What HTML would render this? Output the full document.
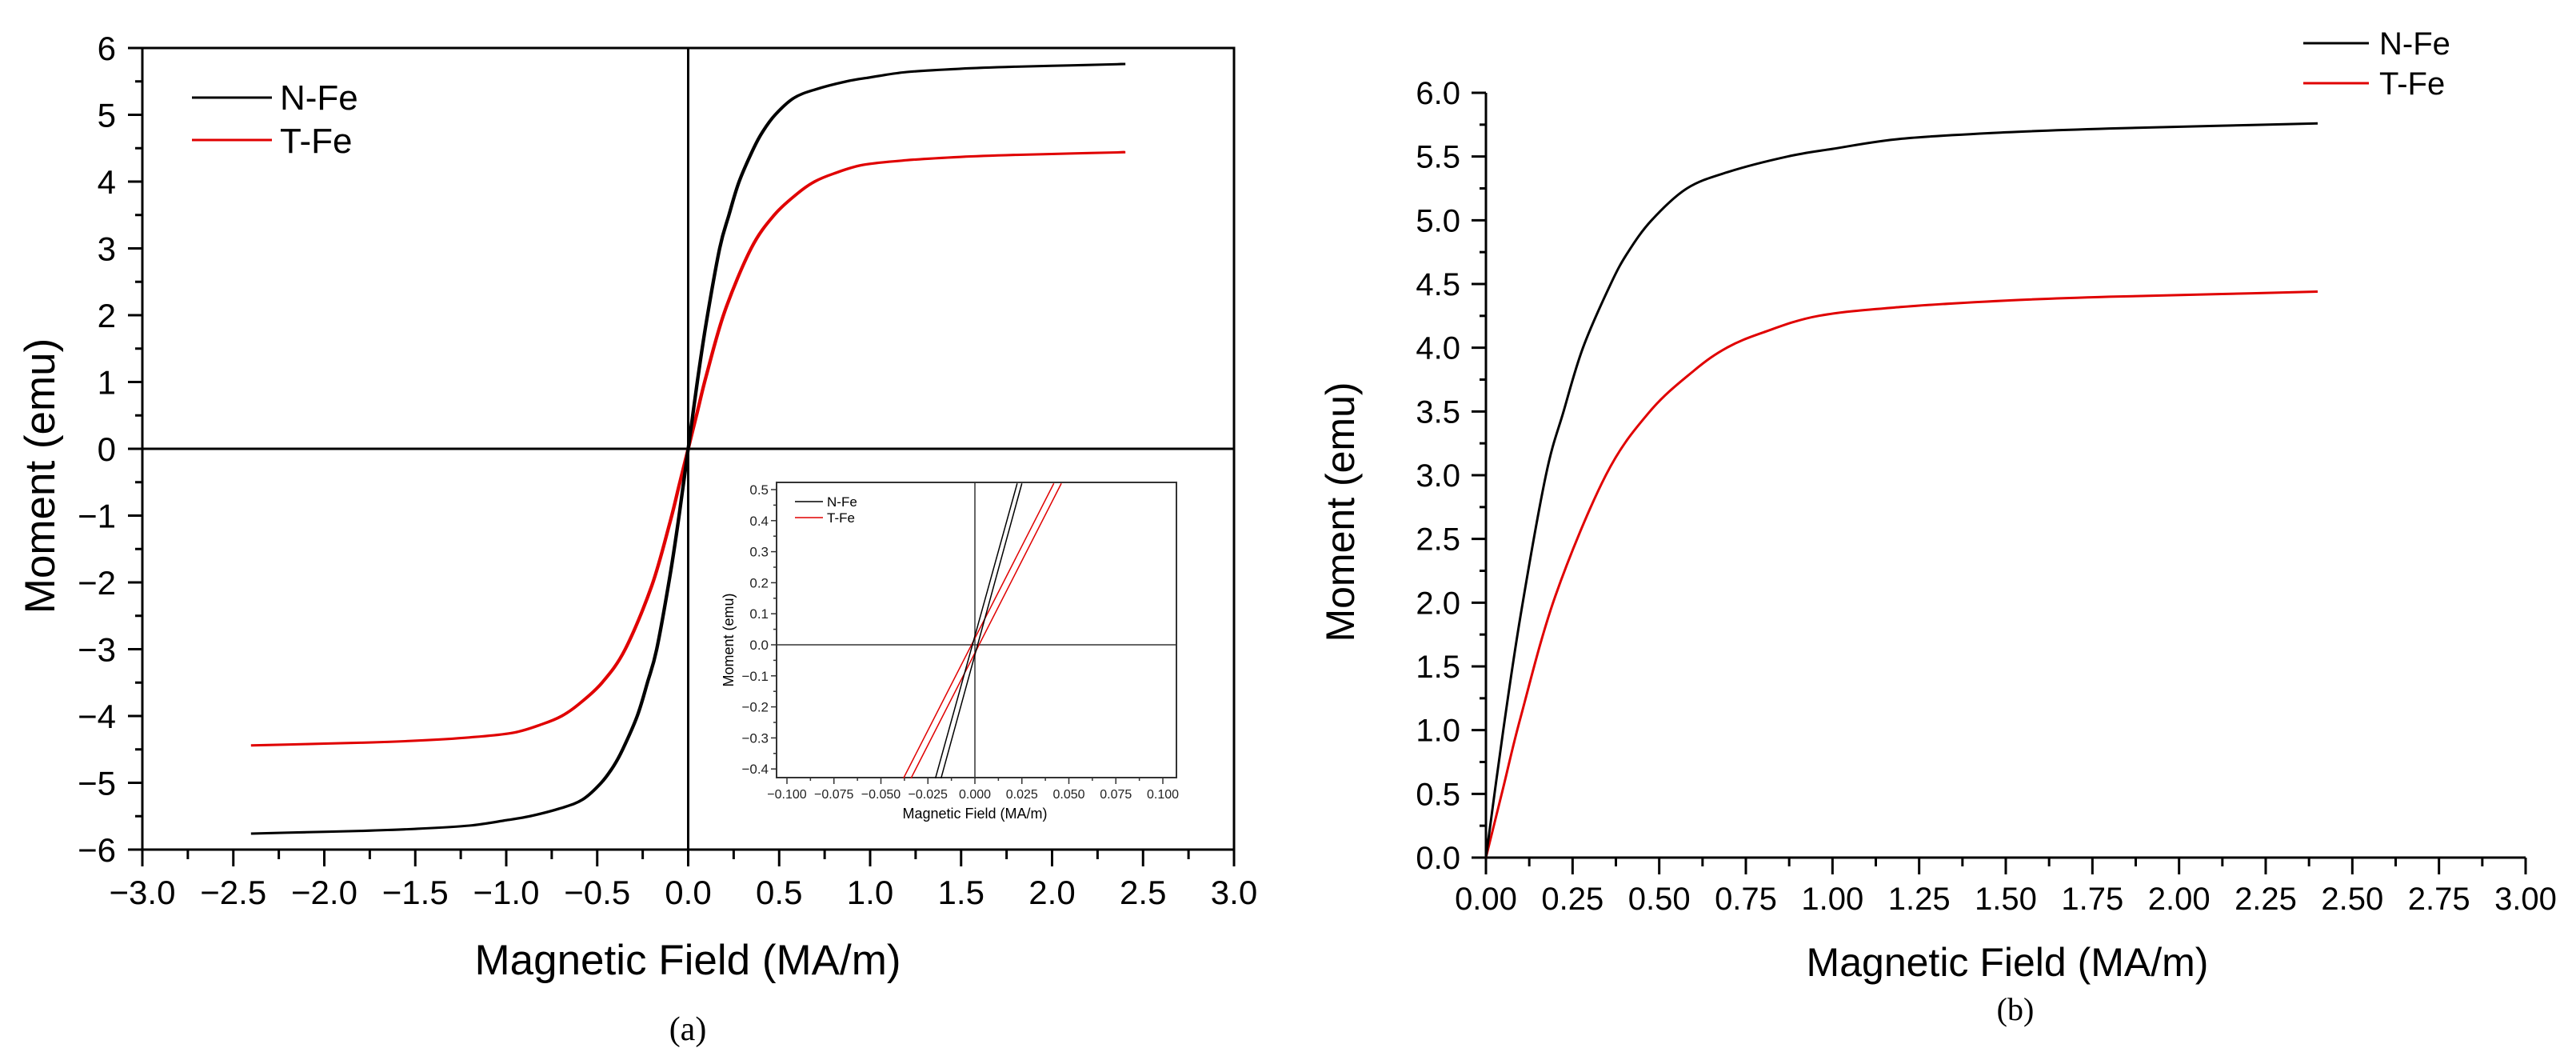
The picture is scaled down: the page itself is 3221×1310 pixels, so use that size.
<!DOCTYPE html>
<html><head><meta charset="utf-8"><style>
html,body{margin:0;padding:0;background:#fff;}
svg{display:block;font-family:"Liberation Sans",Arial,sans-serif;}
</style></head><body>
<svg id="fig" width="3221" height="1310" viewBox="0 0 3221 1310" xmlns="http://www.w3.org/2000/svg">
<g id="pa"></g>
<g id="ins"></g>
<g id="pb"></g>
</svg>
<script>
// ---- data ----
const nFeX = [0,0.05,0.1,0.173,0.224,0.28,0.36,0.41,0.478,0.58,0.7,0.87,1.0,1.2,1.5,1.8,2.1,2.4];
const nFeY = [0,1.0,1.9,3.0,3.5,4.0,4.5,4.75,5.0,5.25,5.38,5.5,5.56,5.64,5.69,5.72,5.74,5.76];
const tFeX = [0,0.05,0.1,0.2,0.346,0.473,0.6,0.695,0.8,0.96,1.2,1.5,1.8,2.1,2.4];
const tFeY = [0,0.55,1.1,2.05,3.0,3.5,3.82,4.0,4.12,4.25,4.32,4.37,4.40,4.42,4.44];
const coercN = 0.003;
const coercT = 0.003;
const insetNX1 = [-0.021,0.0225];
const insetNX2 = [-0.018,0.025];
const insetTX1 = [-0.038,0.042];
const insetTX2 = [-0.034,0.046];
const insetY = [-0.43,0.52];
const aXTicks = [-3.0,-2.5,-2.0,-1.5,-1.0,-0.5,0.0,0.5,1.0,1.5,2.0,2.5,3.0];
const aYTicks = [-6,-5,-4,-3,-2,-1,0,1,2,3,4,5,6];
const insXTicks = [-0.100,-0.075,-0.050,-0.025,0.000,0.025,0.050,0.075,0.100];
const insYTicks = [-0.4,-0.3,-0.2,-0.1,0.0,0.1,0.2,0.3,0.4,0.5];
const bXTicks = [0,0.25,0.5,0.75,1.0,1.25,1.5,1.75,2.0,2.25,2.5,2.75,3.0];
const bYTicks = [0,0.5,1.0,1.5,2.0,2.5,3.0,3.5,4.0,4.5,5.0,5.5,6.0];

const NS="http://www.w3.org/2000/svg";
function mk(parent,tag,attrs,text){const e=document.createElementNS(NS,tag);for(const k in attrs)e.setAttribute(k,attrs[k]);if(text!==undefined)e.textContent=text;parent.appendChild(e);return e;}
function lin(d0,d1,r0,r1){return v=>r0+(v-d0)/(d1-d0)*(r1-r0);}
function fmt(v,d){let s=v.toFixed(d);return s.replace('-','\u2212');}
function path(xs,ys,sx,sy){return xs.map((x,i)=>(i?'L':'M')+sx(x).toFixed(2)+','+sy(ys[i]).toFixed(2)).join('');}
function smooth(xs,ys,sx,sy){const P=xs.map((x,i)=>[sx(x),sy(ys[i])]);let d='M'+P[0][0].toFixed(2)+','+P[0][1].toFixed(2);
  for(let i=0;i<P.length-1;i++){const p0=P[Math.max(0,i-1)],p1=P[i],p2=P[i+1],p3=P[Math.min(P.length-1,i+2)];
    const c1=[p1[0]+(p2[0]-p0[0])/6,p1[1]+(p2[1]-p0[1])/6],c2=[p2[0]-(p3[0]-p1[0])/6,p2[1]-(p3[1]-p1[1])/6];
    d+='C'+c1[0].toFixed(2)+','+c1[1].toFixed(2)+' '+c2[0].toFixed(2)+','+c2[1].toFixed(2)+' '+p2[0].toFixed(2)+','+p2[1].toFixed(2);}
  return d;}

// ---- panel a ----
const A=document.getElementById('pa');
const ax=lin(-3,3,178,1543), ay=lin(-6,6,1062,60);
for(let i=0;i<aYTicks.length;i++){const v=aYTicks[i];
  const t=mk(A,'line',{x1:160,x2:178,y1:ay(v),y2:ay(v),stroke:'#000','stroke-width':3});
  
  if(i<aYTicks.length-1){const m=mk(A,'line',{x1:169,x2:178,y1:ay(v+0.5),y2:ay(v+0.5),stroke:'#000','stroke-width':3});
  }
  const l=mk(A,'text',{x:145,y:ay(v)+15,'text-anchor':'end','font-size':42},v<0?'\u2212'+Math.abs(v):String(v));
  }
for(let i=0;i<aXTicks.length;i++){const v=aXTicks[i];
  const t=mk(A,'line',{x1:ax(v),x2:ax(v),y1:1062,y2:1083,stroke:'#000','stroke-width':3});
  
  if(i<aXTicks.length-1){const m=mk(A,'line',{x1:ax(v+0.25),x2:ax(v+0.25),y1:1062,y2:1074,stroke:'#000','stroke-width':3});
  }
  const l=mk(A,'text',{x:ax(v),y:1130,'text-anchor':'middle','font-size':42},fmt(v,1));
  }
let f=mk(A,'rect',{x:178,y:60,width:1365,height:1002,fill:'none',stroke:'#000','stroke-width':3});

let z=mk(A,'line',{x1:178,x2:1543,y1:ay(0),y2:ay(0),stroke:'#000','stroke-width':3});

z=mk(A,'line',{x1:ax(0),x2:ax(0),y1:60,y2:1062,stroke:'#000','stroke-width':3});

function loop(xs,ys,hc){const X=[],Y=[];
  for(let i=xs.length-1;i>0;i--){X.push(-xs[i]-hc);Y.push(-ys[i]);}
  for(let i=0;i<xs.length;i++){X.push(xs[i]-hc);Y.push(ys[i]);}
  const X2=[],Y2=[];
  for(let i=xs.length-1;i>0;i--){X2.push(xs[i]+hc);Y2.push(ys[i]);}
  for(let i=0;i<xs.length;i++){X2.push(-xs[i]+hc);Y2.push(-ys[i]);}
  return [X,Y,X2,Y2];}
let L=loop(tFeX,tFeY,coercT);
let p=mk(A,'path',{d:smooth(L[0],L[1],ax,ay)+smooth(L[2],L[3],ax,ay),fill:'none',stroke:'#e00000','stroke-width':3,'stroke-linejoin':'round'});

L=loop(nFeX,nFeY,coercN);
p=mk(A,'path',{d:smooth(L[0],L[1],ax,ay)+smooth(L[2],L[3],ax,ay),fill:'none',stroke:'#000','stroke-width':3,'stroke-linejoin':'round'});

p=mk(A,'line',{x1:240,x2:340,y1:122,y2:122,stroke:'#000','stroke-width':3});
p=mk(A,'text',{x:350,y:137,'font-size':44},'N-Fe');
p=mk(A,'line',{x1:240,x2:340,y1:175,y2:175,stroke:'#e00000','stroke-width':3});
p=mk(A,'text',{x:350,y:191,'font-size':44},'T-Fe');
p=mk(A,'text',{x:860,y:1218,'text-anchor':'middle','font-size':53},'Magnetic Field (MA/m)');
p=mk(A,'text',{x:0,y:0,'text-anchor':'middle','font-size':53,transform:'translate(68,595) rotate(-90)'},'Moment (emu)');
p=mk(A,'text',{x:860,y:1300,'text-anchor':'middle','font-size':42,'font-family':'Liberation Serif, serif'},'(a)');

// ---- inset ----
const I=document.getElementById('ins');
const ix=lin(-0.1,0.1,984,1454), iy=lin(0,0.5,806,612);
p=mk(I,'rect',{x:971,y:603,width:500,height:369,fill:'#fff',stroke:'#333','stroke-width':2});
for(let i=0;i<insYTicks.length;i++){const v=insYTicks[i];
  p=mk(I,'line',{x1:964,x2:971,y1:iy(v),y2:iy(v),stroke:'#333','stroke-width':1.5});
  if(i<insYTicks.length-1){p=mk(I,'line',{x1:967,x2:971,y1:iy(v+0.05),y2:iy(v+0.05),stroke:'#333','stroke-width':1.5});}
  p=mk(I,'text',{x:961,y:iy(v)+6,'text-anchor':'end','font-size':17,fill:'#222'},fmt(v,1));}
for(let i=0;i<insXTicks.length;i++){const v=insXTicks[i];
  p=mk(I,'line',{x1:ix(v),x2:ix(v),y1:972,y2:980,stroke:'#333','stroke-width':1.5});
  if(i<insXTicks.length-1){p=mk(I,'line',{x1:ix(v+0.0125),x2:ix(v+0.0125),y1:972,y2:976,stroke:'#333','stroke-width':1.5});}
  p=mk(I,'text',{x:ix(v),y:998,'text-anchor':'middle','font-size':16,fill:'#222'},fmt(v,3));}
p=mk(I,'line',{x1:971,x2:1471,y1:iy(0),y2:iy(0),stroke:'#333','stroke-width':1.5});
p=mk(I,'line',{x1:ix(0),x2:ix(0),y1:603,y2:972,stroke:'#333','stroke-width':1.5});
[[insetTX1,'#e00000','inset-t-fe-branch-1'],[insetTX2,'#e00000','inset-t-fe-branch-2'],[insetNX1,'#000','inset-n-fe-branch-1'],[insetNX2,'#000','inset-n-fe-branch-2']].forEach(s=>{
  const e=mk(I,'path',{d:path(s[0],insetY,ix,iy),stroke:s[1],'stroke-width':1.5,fill:'none'});
  
  });
p=mk(I,'line',{x1:994,x2:1029,y1:627,y2:627,stroke:'#000','stroke-width':1.5});
p=mk(I,'text',{x:1034,y:633,'font-size':17},'N-Fe');
p=mk(I,'line',{x1:994,x2:1029,y1:647,y2:647,stroke:'#e00000','stroke-width':1.5});
p=mk(I,'text',{x:1034,y:653,'font-size':17},'T-Fe');
p=mk(I,'text',{x:1219,y:1023,'text-anchor':'middle','font-size':18},'Magnetic Field (MA/m)');
p=mk(I,'text',{x:0,y:0,'text-anchor':'middle','font-size':18,transform:'translate(917,800) rotate(-90)'},'Moment (emu)');

// ---- panel b ----
const B=document.getElementById('pb');
const bx=lin(0,3,1858,3158), by=lin(0,6,1072,116);
for(let i=0;i<bYTicks.length;i++){const v=bYTicks[i];
  p=mk(B,'line',{x1:1840,x2:1858,y1:by(v),y2:by(v),stroke:'#000','stroke-width':3});
  if(i<bYTicks.length-1){p=mk(B,'line',{x1:1850,x2:1858,y1:by(v+0.25),y2:by(v+0.25),stroke:'#000','stroke-width':3});}
  p=mk(B,'text',{x:1826,y:by(v)+14,'text-anchor':'end','font-size':40},v.toFixed(1));}
for(let i=0;i<bXTicks.length;i++){const v=bXTicks[i];
  p=mk(B,'line',{x1:bx(v),x2:bx(v),y1:1072,y2:1093,stroke:'#000','stroke-width':3});
  if(i<bXTicks.length-1){p=mk(B,'line',{x1:bx(v+0.125),x2:bx(v+0.125),y1:1072,y2:1083,stroke:'#000','stroke-width':3});}
  p=mk(B,'text',{x:bx(v),y:1137,'text-anchor':'middle','font-size':40},v.toFixed(2));}
p=mk(B,'path',{d:'M1858,116L1858,1072L3158,1072',fill:'none',stroke:'#000','stroke-width':3});
p=mk(B,'path',{d:smooth(tFeX,tFeY,bx,by),fill:'none',stroke:'#e00000','stroke-width':3});
p=mk(B,'path',{d:smooth(nFeX,nFeY,bx,by),fill:'none',stroke:'#000','stroke-width':3});
p=mk(B,'line',{x1:2880,x2:2962,y1:54,y2:54,stroke:'#000','stroke-width':3});
p=mk(B,'text',{x:2975,y:68,'font-size':40},'N-Fe');
p=mk(B,'line',{x1:2880,x2:2962,y1:104,y2:104,stroke:'#e00000','stroke-width':3});
p=mk(B,'text',{x:2975,y:118,'font-size':40},'T-Fe');
p=mk(B,'text',{x:2510,y:1220,'text-anchor':'middle','font-size':50},'Magnetic Field (MA/m)');
p=mk(B,'text',{x:0,y:0,'text-anchor':'middle','font-size':50,transform:'translate(1693,640) rotate(-90)'},'Moment (emu)');
p=mk(B,'text',{x:2520,y:1275,'text-anchor':'middle','font-size':40,'font-family':'Liberation Serif, serif'},'(b)');
</script>
</body></html>
